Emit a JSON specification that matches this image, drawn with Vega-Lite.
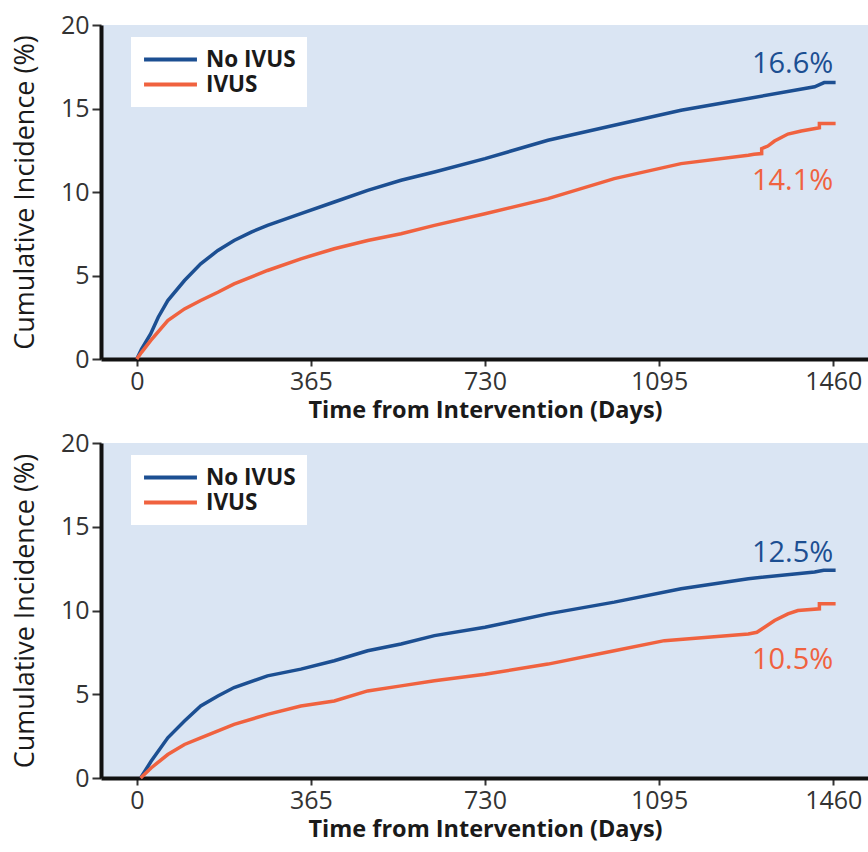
{
  "$schema": "https://vega.github.io/schema/vega-lite/v6.json",
  "background": "white",
  "padding": {"left": 11, "top": 13, "right": 0, "bottom": 0},
  "datasets": {
    "curves": [
      {"panel": "A", "group": "No IVUS", "day": 0, "value": 0},
      {"panel": "A", "group": "No IVUS", "day": 10, "value": 0.6},
      {"panel": "A", "group": "No IVUS", "day": 29, "value": 1.5},
      {"panel": "A", "group": "No IVUS", "day": 45, "value": 2.5},
      {"panel": "A", "group": "No IVUS", "day": 65, "value": 3.5},
      {"panel": "A", "group": "No IVUS", "day": 100, "value": 4.7},
      {"panel": "A", "group": "No IVUS", "day": 134, "value": 5.7},
      {"panel": "A", "group": "No IVUS", "day": 170, "value": 6.5},
      {"panel": "A", "group": "No IVUS", "day": 204, "value": 7.1},
      {"panel": "A", "group": "No IVUS", "day": 240, "value": 7.6},
      {"panel": "A", "group": "No IVUS", "day": 274, "value": 8.0},
      {"panel": "A", "group": "No IVUS", "day": 344, "value": 8.7},
      {"panel": "A", "group": "No IVUS", "day": 414, "value": 9.4},
      {"panel": "A", "group": "No IVUS", "day": 484, "value": 10.1},
      {"panel": "A", "group": "No IVUS", "day": 554, "value": 10.7},
      {"panel": "A", "group": "No IVUS", "day": 624, "value": 11.2},
      {"panel": "A", "group": "No IVUS", "day": 730, "value": 12.0},
      {"panel": "A", "group": "No IVUS", "day": 862, "value": 13.1},
      {"panel": "A", "group": "No IVUS", "day": 1001, "value": 14.0},
      {"panel": "A", "group": "No IVUS", "day": 1141, "value": 14.9},
      {"panel": "A", "group": "No IVUS", "day": 1282, "value": 15.6},
      {"panel": "A", "group": "No IVUS", "day": 1421, "value": 16.3},
      {"panel": "A", "group": "No IVUS", "day": 1441, "value": 16.55},
      {"panel": "A", "group": "No IVUS", "day": 1465, "value": 16.55},
      {"panel": "A", "group": "IVUS", "day": 0, "value": 0},
      {"panel": "A", "group": "IVUS", "day": 10, "value": 0.4},
      {"panel": "A", "group": "IVUS", "day": 29, "value": 1.1},
      {"panel": "A", "group": "IVUS", "day": 65, "value": 2.3},
      {"panel": "A", "group": "IVUS", "day": 100, "value": 3.0},
      {"panel": "A", "group": "IVUS", "day": 134, "value": 3.5},
      {"panel": "A", "group": "IVUS", "day": 170, "value": 4.0},
      {"panel": "A", "group": "IVUS", "day": 204, "value": 4.5},
      {"panel": "A", "group": "IVUS", "day": 274, "value": 5.3},
      {"panel": "A", "group": "IVUS", "day": 344, "value": 6.0},
      {"panel": "A", "group": "IVUS", "day": 414, "value": 6.6},
      {"panel": "A", "group": "IVUS", "day": 484, "value": 7.1},
      {"panel": "A", "group": "IVUS", "day": 554, "value": 7.5},
      {"panel": "A", "group": "IVUS", "day": 624, "value": 8.0},
      {"panel": "A", "group": "IVUS", "day": 730, "value": 8.7},
      {"panel": "A", "group": "IVUS", "day": 862, "value": 9.6},
      {"panel": "A", "group": "IVUS", "day": 1001, "value": 10.8},
      {"panel": "A", "group": "IVUS", "day": 1141, "value": 11.7},
      {"panel": "A", "group": "IVUS", "day": 1282, "value": 12.2},
      {"panel": "A", "group": "IVUS", "day": 1294, "value": 12.26},
      {"panel": "A", "group": "IVUS", "day": 1310, "value": 12.3},
      {"panel": "A", "group": "IVUS", "day": 1310, "value": 12.6},
      {"panel": "A", "group": "IVUS", "day": 1323, "value": 12.75},
      {"panel": "A", "group": "IVUS", "day": 1337, "value": 13.05},
      {"panel": "A", "group": "IVUS", "day": 1365, "value": 13.47},
      {"panel": "A", "group": "IVUS", "day": 1393, "value": 13.65},
      {"panel": "A", "group": "IVUS", "day": 1431, "value": 13.85},
      {"panel": "A", "group": "IVUS", "day": 1431, "value": 14.1},
      {"panel": "A", "group": "IVUS", "day": 1465, "value": 14.1},
      {"panel": "B", "group": "No IVUS", "day": 8, "value": 0},
      {"panel": "B", "group": "No IVUS", "day": 30, "value": 1.0},
      {"panel": "B", "group": "No IVUS", "day": 65, "value": 2.4},
      {"panel": "B", "group": "No IVUS", "day": 100, "value": 3.4},
      {"panel": "B", "group": "No IVUS", "day": 134, "value": 4.3},
      {"panel": "B", "group": "No IVUS", "day": 170, "value": 4.9},
      {"panel": "B", "group": "No IVUS", "day": 204, "value": 5.4},
      {"panel": "B", "group": "No IVUS", "day": 274, "value": 6.1},
      {"panel": "B", "group": "No IVUS", "day": 344, "value": 6.5},
      {"panel": "B", "group": "No IVUS", "day": 414, "value": 7.0},
      {"panel": "B", "group": "No IVUS", "day": 484, "value": 7.6},
      {"panel": "B", "group": "No IVUS", "day": 554, "value": 8.0},
      {"panel": "B", "group": "No IVUS", "day": 624, "value": 8.5},
      {"panel": "B", "group": "No IVUS", "day": 730, "value": 9.0},
      {"panel": "B", "group": "No IVUS", "day": 862, "value": 9.8},
      {"panel": "B", "group": "No IVUS", "day": 1001, "value": 10.5},
      {"panel": "B", "group": "No IVUS", "day": 1141, "value": 11.3},
      {"panel": "B", "group": "No IVUS", "day": 1282, "value": 11.9},
      {"panel": "B", "group": "No IVUS", "day": 1421, "value": 12.3},
      {"panel": "B", "group": "No IVUS", "day": 1440, "value": 12.4},
      {"panel": "B", "group": "No IVUS", "day": 1465, "value": 12.4},
      {"panel": "B", "group": "IVUS", "day": 8, "value": 0},
      {"panel": "B", "group": "IVUS", "day": 30, "value": 0.6},
      {"panel": "B", "group": "IVUS", "day": 65, "value": 1.4},
      {"panel": "B", "group": "IVUS", "day": 100, "value": 2.0},
      {"panel": "B", "group": "IVUS", "day": 134, "value": 2.4},
      {"panel": "B", "group": "IVUS", "day": 204, "value": 3.2},
      {"panel": "B", "group": "IVUS", "day": 274, "value": 3.8},
      {"panel": "B", "group": "IVUS", "day": 344, "value": 4.3},
      {"panel": "B", "group": "IVUS", "day": 414, "value": 4.6},
      {"panel": "B", "group": "IVUS", "day": 484, "value": 5.2},
      {"panel": "B", "group": "IVUS", "day": 554, "value": 5.5},
      {"panel": "B", "group": "IVUS", "day": 624, "value": 5.8},
      {"panel": "B", "group": "IVUS", "day": 730, "value": 6.2},
      {"panel": "B", "group": "IVUS", "day": 862, "value": 6.8},
      {"panel": "B", "group": "IVUS", "day": 1001, "value": 7.6},
      {"panel": "B", "group": "IVUS", "day": 1106, "value": 8.2},
      {"panel": "B", "group": "IVUS", "day": 1282, "value": 8.6},
      {"panel": "B", "group": "IVUS", "day": 1300, "value": 8.7},
      {"panel": "B", "group": "IVUS", "day": 1316, "value": 9.0},
      {"panel": "B", "group": "IVUS", "day": 1337, "value": 9.4},
      {"panel": "B", "group": "IVUS", "day": 1365, "value": 9.8},
      {"panel": "B", "group": "IVUS", "day": 1386, "value": 10.0},
      {"panel": "B", "group": "IVUS", "day": 1431, "value": 10.1},
      {"panel": "B", "group": "IVUS", "day": 1431, "value": 10.4},
      {"panel": "B", "group": "IVUS", "day": 1465, "value": 10.4}
    ],
    "labels": [
      {"panel": "A", "group": "No IVUS", "day": 1460, "value": 16.6, "label": "16.6%"},
      {"panel": "A", "group": "IVUS", "day": 1460, "value": 14.1, "label": "14.1%"},
      {"panel": "B", "group": "No IVUS", "day": 1460, "value": 12.5, "label": "12.5%"},
      {"panel": "B", "group": "IVUS", "day": 1460, "value": 10.5, "label": "10.5%"}
    ]
  },
  "vconcat": [
    {
      "width": 768,
      "height": 334,
      "layer": [
        {
          "data": {"name": "curves"},
          "transform": [{"filter": "datum.panel === 'A'"}],
          "mark": {"type": "line", "strokeWidth": 3.5, "interpolate": "linear"},
          "encoding": {
            "x": {"field": "day", "type": "quantitative", "scale": {"domain": [-75, 1535], "nice": false, "zero": false},
                  "axis": {"values": [0, 365, 730, 1095, 1460], "format": "d", "title": "Time from Intervention (Days)"}},
            "y": {"field": "value", "type": "quantitative", "scale": {"domain": [0, 20], "nice": false},
                  "axis": {"values": [0, 5, 10, 15, 20], "title": "Cumulative Incidence (%)"}},
            "color": {"field": "group", "type": "nominal", "scale": {"domain": ["No IVUS", "IVUS"], "range": ["#1c4f92", "#f0623f"]},
                      "legend": {"title": null}},
            "detail": {"field": "group"}
          }
        },
        {
          "data": {"name": "labels"},
          "transform": [{"filter": "datum.panel === 'A' && datum.group === 'No IVUS'"}],
          "mark": {"type": "text", "align": "right", "baseline": "middle", "dy": -18, "fontSize": 29, "font": "Open Sans"},
          "encoding": {
            "x": {"field": "day", "type": "quantitative"},
            "y": {"field": "value", "type": "quantitative"},
            "text": {"field": "label"},
            "color": {"field": "group", "type": "nominal", "legend": null}
          }
        },
        {
          "data": {"name": "labels"},
          "transform": [{"filter": "datum.panel === 'A' && datum.group === 'IVUS'"}],
          "mark": {"type": "text", "align": "right", "baseline": "middle", "dy": 57, "fontSize": 29, "font": "Open Sans"},
          "encoding": {
            "x": {"field": "day", "type": "quantitative"},
            "y": {"field": "value", "type": "quantitative"},
            "text": {"field": "label"},
            "color": {"field": "group", "type": "nominal", "legend": null}
          }
        }
      ]
    },
    {
      "width": 768,
      "height": 335,
      "layer": [
        {
          "data": {"name": "curves"},
          "transform": [{"filter": "datum.panel === 'B'"}],
          "mark": {"type": "line", "strokeWidth": 3.5, "interpolate": "linear"},
          "encoding": {
            "x": {"field": "day", "type": "quantitative", "scale": {"domain": [-75, 1535], "nice": false, "zero": false},
                  "axis": {"values": [0, 365, 730, 1095, 1460], "format": "d", "title": "Time from Intervention (Days)"}},
            "y": {"field": "value", "type": "quantitative", "scale": {"domain": [0, 20], "nice": false},
                  "axis": {"values": [0, 5, 10, 15, 20], "title": "Cumulative Incidence (%)"}},
            "color": {"field": "group", "type": "nominal", "scale": {"domain": ["No IVUS", "IVUS"], "range": ["#1c4f92", "#f0623f"]},
                      "legend": {"title": null}},
            "detail": {"field": "group"}
          }
        },
        {
          "data": {"name": "labels"},
          "transform": [{"filter": "datum.panel === 'B' && datum.group === 'No IVUS'"}],
          "mark": {"type": "text", "align": "right", "baseline": "middle", "dy": -16, "fontSize": 29, "font": "Open Sans"},
          "encoding": {
            "x": {"field": "day", "type": "quantitative"},
            "y": {"field": "value", "type": "quantitative"},
            "text": {"field": "label"},
            "color": {"field": "group", "type": "nominal", "legend": null}
          }
        },
        {
          "data": {"name": "labels"},
          "transform": [{"filter": "datum.panel === 'B' && datum.group === 'IVUS'"}],
          "mark": {"type": "text", "align": "right", "baseline": "middle", "dy": 58, "fontSize": 29, "font": "Open Sans"},
          "encoding": {
            "x": {"field": "day", "type": "quantitative"},
            "y": {"field": "value", "type": "quantitative"},
            "text": {"field": "label"},
            "color": {"field": "group", "type": "nominal", "legend": null}
          }
        }
      ]
    }
  ],
  "spacing": 84,
  "bounds": "flush",
  "resolve": {"scale": {"color": "independent"}, "legend": {"color": "independent"}},
  "config": {
    "font": "Open Sans",
    "view": {"fill": "#dae5f3", "stroke": null},
    "axis": {
      "grid": false,
      "domainColor": "#111111",
      "domainWidth": 4,
      "tickColor": "#333333",
      "tickWidth": 2,
      "labelFont": "Open Sans",
      "labelFontSize": 25,
      "labelColor": "#333333",
      "titleFont": "Open Sans",
      "titleColor": "#1a1a1a"
    },
    "axisX": {"tickSize": 7, "labelPadding": 3, "titleFontSize": 23.5, "titleFontWeight": "bold", "titlePadding": 4},
    "axisY": {"tickSize": 9, "labelPadding": 3, "titleFontSize": 27, "titleFontWeight": "normal", "titlePadding": 21},
    "legend": {
      "orient": "none",
      "legendX": 30,
      "legendY": 12,
      "fillColor": "white",
      "padding": 11,
      "symbolType": "stroke",
      "symbolStrokeWidth": 4,
      "symbolSize": 2800,
      "clipHeight": 23,
      "labelFontSize": 22.5,
      "labelFontWeight": "bold",
      "labelColor": "#1a1a1a",
      "labelFont": "Open Sans",
      "labelOffset": 7,
      "rowPadding": 2
    }
  }
}
